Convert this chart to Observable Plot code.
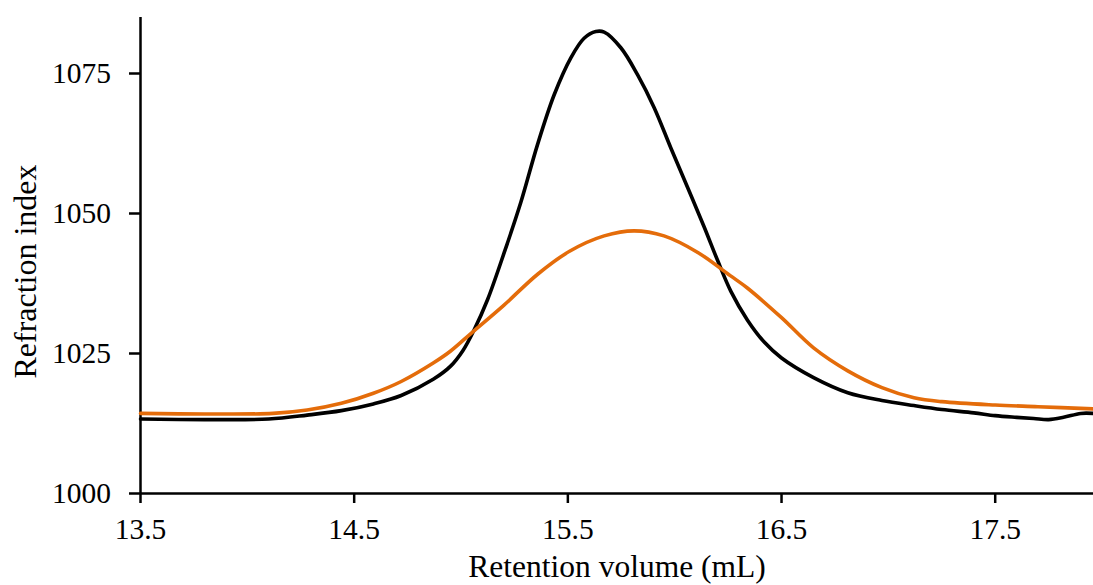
<!DOCTYPE html>
<html>
<head>
<meta charset="utf-8">
<script src="https://cdn.jsdelivr.net/npm/d3@7"></script>
<script src="https://cdn.jsdelivr.net/npm/@observablehq/plot@0.6"></script>
<style>
  html, body { margin: 0; padding: 0; background: #fff; }
  #chart svg { display: block; }
</style>
</head>
<body>
<div id="chart"></div>
<script>
// Retention volume (mL) and refraction index for the black series
const blackX = [13.50, 13.80, 14.10, 14.28, 14.44, 14.59, 14.72, 14.87, 14.95, 15.01, 15.061, 15.124, 15.202, 15.280, 15.358, 15.436, 15.514, 15.576, 15.631, 15.670, 15.748, 15.826, 15.904, 15.982, 16.061, 16.138, 16.201, 16.263, 16.34, 16.42, 16.50, 16.65, 16.81, 16.97, 17.12, 17.25, 17.40, 17.50, 17.60, 17.68, 17.75, 17.82, 17.90, 17.96];
const blackY = [1013.3, 1013.2, 1013.3, 1014.0, 1014.8, 1016.0, 1017.5, 1020.4, 1022.7, 1025.6, 1029.2, 1034.6, 1043.0, 1052.0, 1062.3, 1071.2, 1077.8, 1081.3, 1082.5, 1082.4, 1079.6, 1074.8, 1068.9, 1061.7, 1054.6, 1047.6, 1041.6, 1036.1, 1031.0, 1027.0, 1024.2, 1020.7, 1018.0, 1016.6, 1015.7, 1015.0, 1014.4, 1013.9, 1013.6, 1013.4, 1013.2, 1013.6, 1014.3, 1014.3];

// Orange series
const orangeX = [13.50, 13.80, 14.12, 14.28, 14.44, 14.59, 14.72, 14.87, 14.95, 15.05, 15.20, 15.36, 15.51, 15.67, 15.81, 15.95, 16.11, 16.26, 16.34, 16.50, 16.65, 16.81, 16.97, 17.12, 17.25, 17.50, 17.70, 17.96];
const orangeY = [1014.3, 1014.2, 1014.3, 1014.9, 1016.1, 1017.9, 1020.0, 1023.3, 1025.4, 1028.7, 1033.6, 1039.2, 1043.3, 1046.0, 1046.9, 1046.0, 1043.0, 1038.9, 1036.7, 1031.4, 1026.0, 1021.9, 1018.9, 1017.1, 1016.4, 1015.8, 1015.5, 1015.1];

const xTicks = [13.5, 14.5, 15.5, 16.5, 17.5];
const yTicks = [1000, 1025, 1050, 1075];
const xLabel = "Retention volume (mL)";
const yLabel = "Refraction index";

const black = blackX.map((x, i) => ({x, y: blackY[i]}));
const orange = orangeX.map((x, i) => ({x, y: orangeY[i]}));

const font = "'Liberation Serif', 'Times New Roman', serif";

const chart = Plot.plot({
  width: 1093,
  height: 585,
  marginLeft: 140,
  marginRight: 0,
  marginTop: 17,
  marginBottom: 92,
  style: {fontFamily: font, fontSize: "29.5px", color: "#000", background: "#fff"},
  x: {domain: [13.5, 17.96]},
  y: {domain: [1000, 1085]},
  marks: [
    // tick marks from the library's axes; labels drawn as text through the same scales
    Plot.axisX({ticks: xTicks, tickSize: 10, tickFormat: () => "", label: null, strokeWidth: 2.5}),
    Plot.axisY({ticks: yTicks, tickSize: 11, tickFormat: () => "", label: null, strokeWidth: 2.5}),
    Plot.text(xTicks, {x: d => d, frameAnchor: "bottom", dy: 45, text: d => d.toFixed(1), fontSize: 29.5, fill: "#000"}),
    Plot.text(yTicks, {y: d => d, frameAnchor: "left", textAnchor: "end", dx: -29.5, text: d => String(d), fontSize: 29.5, fill: "#000"}),
    Plot.ruleY([1000], {stroke: "#000", strokeWidth: 2.5}),
    Plot.ruleX([13.5], {stroke: "#000", strokeWidth: 2.5}),
    Plot.line(black, {x: "x", y: "y", stroke: "#000", strokeWidth: 3.6, curve: "catmull-rom"}),
    Plot.line(orange, {x: "x", y: "y", stroke: "#e46c0a", strokeWidth: 3.6, curve: "catmull-rom"}),
    Plot.text([xLabel], {frameAnchor: "bottom", dy: 83, fontSize: 31.5, fill: "#000"}),
    Plot.text([yLabel], {frameAnchor: "left", textAnchor: "middle", dx: -115, dy: 16, rotate: -90, fontSize: 32, fill: "#000"})
  ]
});
document.getElementById("chart").appendChild(chart);
</script>
</body>
</html>
